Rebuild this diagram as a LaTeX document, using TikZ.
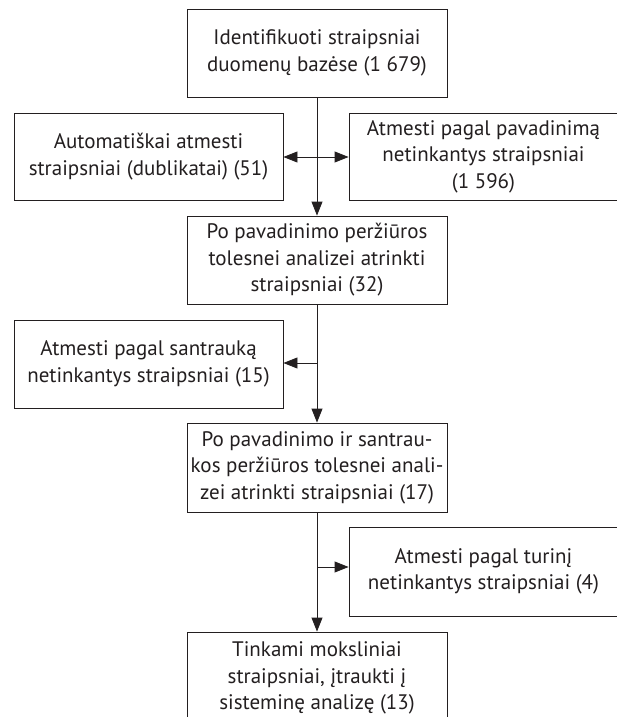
\documentclass[tikz,border=0pt]{standalone}
\usepackage{fontspec}
\setmainfont{PT Sans}
\usetikzlibrary{arrows.meta}
\definecolor{ink}{HTML}{231F20}
\tikzset{
  box/.style={draw=ink, line width=0.9pt, rectangle, align=center, inner sep=0pt,
    minimum height=88pt, text=ink, font=\fontsize{21}{26.5}\selectfont},
  wide/.style={box, minimum width=260pt},
  side/.style={box, minimum width=269pt},
  flow/.style={draw=ink, line width=0.9pt, -{Triangle[length=14pt,width=11pt]}},
  plain/.style={draw=ink, line width=0.9pt}
}
\begin{document}
\begin{tikzpicture}[x=1pt,y=-1pt]
\useasboundingbox (0,0) rectangle (617,717);
\clip (0,0) rectangle (617,717);
\fill[white] (0,0) rectangle (617,717);

\node[wide] (top) at (317,53) {Identifikuoti straipsniai\\duomenų bazėse (1 679)};
\node[side, minimum height=87pt] (dup) at (148.5,156.5) {Automatiškai atmesti\\straipsniai (dublikatai) (51)};
\node[side, minimum height=87pt] (title) at (483.5,156.5) {Atmesti pagal pavadinimą\\netinkantys straipsniai\\(1 596)};
\node[wide] (sel1) at (317,260) {Po pavadinimo peržiūros\\tolesnei analizei atrinkti\\straipsniai (32)};
\node[side] (abs) at (148.5,364) {Atmesti pagal santrauką\\netinkantys straipsniai (15)};
\node[wide, minimum height=89pt] (sel2) at (317,467.5) {Po pavadinimo ir santrau-\\kos peržiūros tolesnei anali-\\zei atrinkti straipsniai (17)};
\node[side, minimum height=89pt] (cont) at (483.5,571.5) {Atmesti pagal turinį\\netinkantys straipsniai (4)};
\node[wide, minimum height=92pt] (fin) at (317,678) {Tinkami moksliniai\\straipsniai, įtraukti į\\sisteminę analizę (13)};

\coordinate (j1) at (317,157);
\coordinate (j2) at (317,363);
\coordinate (j3) at (317,567);

\draw[flow] (top.south) -- (sel1.north);
\draw[flow] (j1) -- (dup.east |- j1);
\draw[flow] (j1) -- (title.west |- j1);
\draw[flow] (sel1.south) -- (sel2.north);
\draw[flow] (j2) -- (abs.east |- j2);
\draw[flow] (sel2.south) -- (fin.north);
\draw[flow] (j3) -- (cont.west |- j3);
\end{tikzpicture}
\end{document}
